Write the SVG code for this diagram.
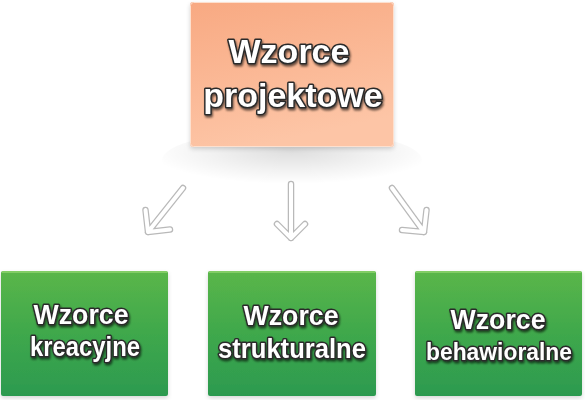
<svg xmlns="http://www.w3.org/2000/svg" width="585" height="400" viewBox="0 0 585 400">
  <defs>
    <linearGradient id="gTop" x1="0" y1="0" x2="0.3" y2="1">
      <stop offset="0" stop-color="#f8a982"/>
      <stop offset="1" stop-color="#fdc5a6"/>
    </linearGradient>
    <linearGradient id="gGreen" x1="0" y1="0" x2="0" y2="1">
      <stop offset="0" stop-color="#5ab64a"/>
      <stop offset="0.5" stop-color="#3fa84c"/>
      <stop offset="1" stop-color="#2c9a50"/>
    </linearGradient>
    <radialGradient id="gShadow" cx="0.5" cy="0.35" r="0.55">
      <stop offset="0" stop-color="#000" stop-opacity="0.13"/>
      <stop offset="0.6" stop-color="#000" stop-opacity="0.05"/>
      <stop offset="1" stop-color="#000" stop-opacity="0"/>
    </radialGradient>
    <filter id="txtShadow" x="-20%" y="-30%" width="140%" height="160%">
      <feDropShadow dx="1" dy="2" stdDeviation="1.2" flood-color="#000" flood-opacity="0.6"/>
    </filter>
    <filter id="boxShadow" x="-10%" y="-10%" width="120%" height="130%">
      <feDropShadow dx="0" dy="2" stdDeviation="2" flood-color="#000" flood-opacity="0.16"/>
    </filter>
  </defs>
  <style>
    .lbl { font-family: "Liberation Sans", Arial, sans-serif; font-weight: bold; fill: #ffffff; stroke: #2a2a2a; stroke-width: 3; paint-order: stroke; stroke-linejoin: round; text-anchor: middle; filter: url(#txtShadow); }
    .big { font-size: 34px; }
    .small { font-size: 27px; }
    .tiny { font-size: 24px; }
    .green { fill: url(#gGreen); filter: url(#boxShadow); }
    .hl { fill: none; stroke: #8fd46f; stroke-width: 1.5; }
    .arrOut { fill: none; stroke: #b9b9b9; stroke-width: 6.5; stroke-linecap: round; stroke-linejoin: round; }
    .arrIn { fill: none; stroke: #ffffff; stroke-width: 4; stroke-linecap: round; stroke-linejoin: round; }
  </style>

  <ellipse cx="292" cy="160" rx="130" ry="30" fill="url(#gShadow)"/>

  <g id="node-top">
    <rect x="190" y="2" width="204" height="145" rx="3" fill="url(#gTop)" filter="url(#boxShadow)"/>
    <rect x="190.5" y="2.5" width="203" height="144" rx="3" fill="none" stroke="#fde0cf" stroke-width="1"/>
    <text class="lbl big" x="289" y="63">Wzorce</text>
    <text class="lbl big" x="293" y="107">projektowe</text>
  </g>

  <g id="connectors">
    <path class="arrOut" d="M183,188 L148,232 M170,229.5 L148,232 L145.5,210"/>
    <path class="arrIn" d="M183,188 L148,232 M170,229.5 L148,232 L145.5,210"/>
    <path class="arrOut" d="M291,184 L291,238 M277,224 L291,238 L305,224"/>
    <path class="arrIn" d="M291,184 L291,238 M277,224 L291,238 L305,224"/>
    <path class="arrOut" d="M392,188 L424,232 M402,230 L424,232 L426.5,210"/>
    <path class="arrIn" d="M392,188 L424,232 M402,230 L424,232 L426.5,210"/>
  </g>

  <g id="node-kreacyjne">
    <rect class="green" x="1" y="271" width="167" height="125" rx="2"/>
    <line class="hl" x1="2" y1="272" x2="167" y2="272"/>
    <text class="lbl small" x="81" y="324" textLength="95" lengthAdjust="spacingAndGlyphs">Wzorce</text>
    <text class="lbl small" x="85" y="356" textLength="110" lengthAdjust="spacingAndGlyphs">kreacyjne</text>
  </g>

  <g id="node-strukturalne">
    <rect class="green" x="208" y="271" width="168" height="125" rx="2"/>
    <line class="hl" x1="209" y1="272" x2="375" y2="272"/>
    <text class="lbl small" x="291" y="325" textLength="95" lengthAdjust="spacingAndGlyphs">Wzorce</text>
    <text class="lbl small" x="292" y="358" textLength="148" lengthAdjust="spacingAndGlyphs">strukturalne</text>
  </g>

  <g id="node-behawioralne">
    <rect class="green" x="415" y="271" width="167" height="125" rx="2"/>
    <line class="hl" x1="416" y1="272" x2="581" y2="272"/>
    <text class="lbl small" x="498" y="329" textLength="95" lengthAdjust="spacingAndGlyphs">Wzorce</text>
    <text class="lbl tiny" x="499" y="360" textLength="146" lengthAdjust="spacingAndGlyphs">behawioralne</text>
  </g>
</svg>
